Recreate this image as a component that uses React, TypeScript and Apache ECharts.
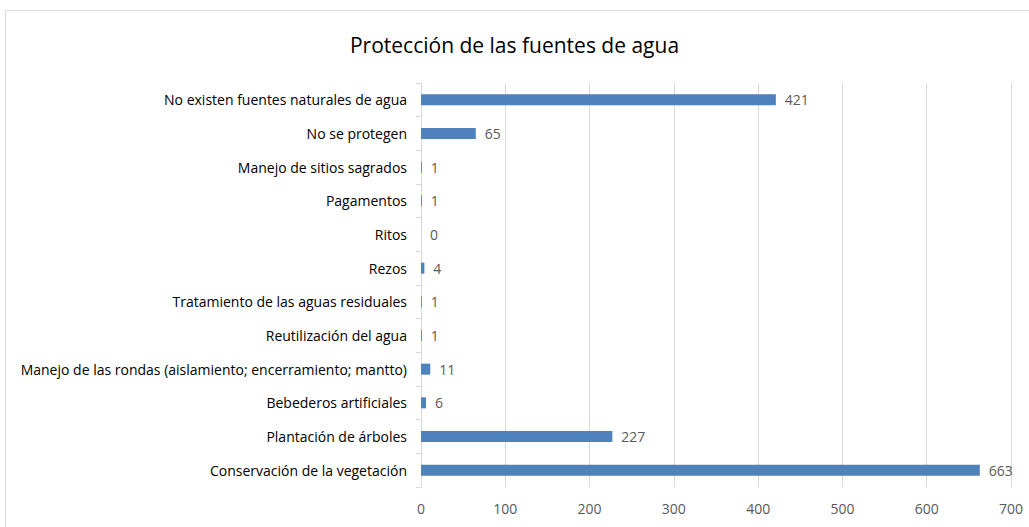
import React, { useEffect, useRef } from "react";
import * as echarts from "echarts";

const categories = [
  "No existen fuentes naturales de agua",
  "No se protegen",
  "Manejo de sitios sagrados",
  "Pagamentos",
  "Ritos",
  "Rezos",
  "Tratamiento de las aguas residuales",
  "Reutilización del agua",
  "Manejo de las rondas (aislamiento; encerramiento; mantto)",
  "Bebederos artificiales",
  "Plantación de árboles",
  "Conservación de la vegetación",
];
const values = [421, 65, 1, 1, 0, 4, 1, 1, 11, 6, 227, 663];
const titleText = "Protección de las fuentes de agua";

const FONT = "'Open Sans', sans-serif";

export default function App() {
  const ref = useRef<HTMLDivElement>(null);
  useEffect(() => {
    if (!ref.current) return;
    const chart = echarts.init(ref.current, undefined, { renderer: "svg" });
    chart.setOption({
      animation: false,
      backgroundColor: "#ffffff",
      title: {
        text: titleText,
        left: "center",
        top: 29,
        textStyle: { fontFamily: FONT, fontSize: 21, fontWeight: "normal", color: "#000000" },
      },
      graphic: [
        {
          type: "rect",
          shape: { x: 5.5, y: 10.5, width: 1030, height: 530 },
          style: { fill: "none", stroke: "#d9d9d9", lineWidth: 1 },
          silent: true,
        },
      ],
      grid: { left: 421, right: 18, top: 83, bottom: 40 },
      xAxis: {
        type: "value",
        min: 0,
        max: 700,
        interval: 100,
        axisLine: { show: false },
        axisTick: { show: false },
        splitLine: { show: true, lineStyle: { color: "#d9d9d9", width: 1 } },
        axisLabel: { fontFamily: FONT, fontSize: 14, color: "#595959", margin: 14 },
      },
      yAxis: {
        type: "category",
        data: categories,
        inverse: true,
        axisLine: { show: true, lineStyle: { color: "#d9d9d9" } },
        axisTick: { show: true, length: 5, lineStyle: { color: "#d9d9d9" } },
        axisLabel: { fontFamily: FONT, fontSize: 14, color: "#000000", margin: 14 },
      },
      series: [
        {
          type: "bar",
          data: values,
          barWidth: 11,
          itemStyle: { color: "#4f81bd" },
          label: {
            show: true,
            position: "right",
            distance: 9,
            fontFamily: FONT,
            fontSize: 14,
            color: "#595959",
          },
        },
      ],
    });
    return () => chart.dispose();
  }, []);
  return (
    <div
      ref={ref}
      style={{ position: "fixed", left: 0, top: 0, width: 1029, height: 527 }}
    />
  );
}
